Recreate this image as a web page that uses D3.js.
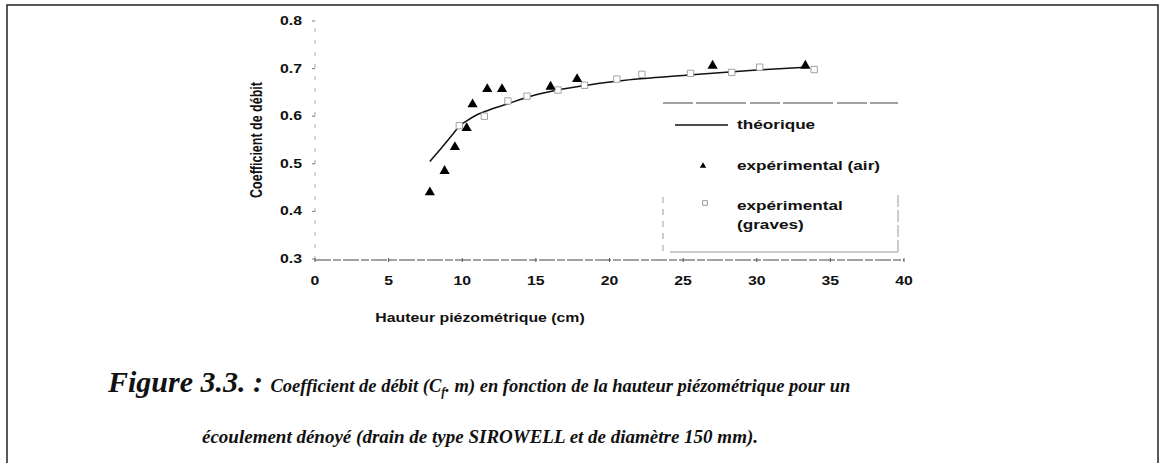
<!DOCTYPE html>
<html><head><meta charset="utf-8">
<script src="https://cdn.jsdelivr.net/npm/d3@7"></script>
<style>
html,body{margin:0;padding:0;background:#fff;}
svg{display:block;}
</style></head>
<body>
<svg id="c" width="1166" height="463"></svg>
<script>
// ---- data ----
const xTicks = [0,5,10,15,20,25,30,35,40];
const yTicks = [0.3,0.4,0.5,0.6,0.7,0.8];
const theoX = [7.8,8.5,9.3,9.8,10.3,11.0,12.0,13.0,14.4,16.0,18.0,20.6,25.6,30.0,33.3];
const theoY = [0.505,0.53,0.56,0.579,0.59,0.603,0.615,0.625,0.64,0.652,0.663,0.674,0.687,0.697,0.703];
const airX = [7.8,8.8,9.5,10.3,10.7,11.7,12.7,16.0,17.8,27.0,33.3];
const airY = [0.44,0.485,0.535,0.575,0.625,0.657,0.657,0.662,0.678,0.706,0.706];
const gravX = [9.8,11.5,13.1,14.4,16.5,18.3,20.5,22.2,25.5,28.3,30.2,33.9];
const gravY = [0.58,0.60,0.632,0.642,0.655,0.665,0.678,0.688,0.69,0.692,0.703,0.698];
const legendLabels = ["théorique","expérimental (air)","expérimental","(graves)"];

const svg = d3.select("#c");
const x = d3.scaleLinear().domain([0,40]).range([315,904]);
const y = d3.scaleLinear().domain([0.3,0.8]).range([259,21]);
const SX = 1.32;
const sans = "'Liberation Sans', Arial, sans-serif";

// page border
svg.append("path").attr("d","M7,470 L7,5 L1158,5 L1158,470")
  .attr("fill","none").attr("stroke","#222").attr("stroke-width",1.5);

// axes
svg.append("line").attr("x1",x(0)).attr("x2",x(40)).attr("y1",y(0.3)+1).attr("y2",y(0.3)+1)
  .attr("stroke","#444").attr("stroke-width",1.2).attr("stroke-dasharray","16,2,8,2");
svg.append("line").attr("x1",x(0)).attr("x2",x(0)).attr("y1",y(0.3)+1).attr("y2",y(0.8))
  .attr("stroke","#aaa").attr("stroke-width",1).attr("stroke-dasharray","4,8");
svg.selectAll(".xt").data(xTicks).join("line").attr("x1",d=>x(d)).attr("x2",d=>x(d))
  .attr("y1",y(0.3)-1).attr("y2",y(0.3)+3).attr("stroke","#555");
svg.selectAll(".yt").data(yTicks).join("line").attr("x1",x(0)-3).attr("x2",x(0))
  .attr("y1",d=>y(d)).attr("y2",d=>y(d)).attr("stroke","#777");

function stext(g, tx, ty, txt, size, anchor){
  return g.append("text").attr("transform",`translate(${tx},${ty}) scale(${SX},1)`)
    .attr("font-family",sans).attr("font-weight","bold").attr("font-size",size)
    .attr("text-anchor",anchor||"start").attr("fill","#111").text(txt);
}
xTicks.forEach(d=>stext(svg, x(d), 285, d, 12, "middle"));
yTicks.forEach(d=>stext(svg, 302, y(d)+4, d.toFixed(1), 12, "end"));

stext(svg, 480, 322, "Hauteur piézométrique (cm)", 12, "middle");
svg.append("text").attr("transform",`translate(262,140) rotate(-90) scale(1,${SX})`)
  .attr("font-family",sans).attr("font-weight","bold").attr("font-size",12.5)
  .attr("text-anchor","middle").attr("fill","#111").text("Coefficient de débit");

// theoretical line
const theo = theoX.map((d,i)=>[d,theoY[i]]);
svg.append("path").datum(theo)
  .attr("d", d3.line().x(d=>x(d[0])).y(d=>y(d[1])).curve(d3.curveMonotoneX))
  .attr("fill","none").attr("stroke","#111").attr("stroke-width",1.5);

// graves squares
const sq = d3.symbol().type(d3.symbolSquare).size(40);
svg.selectAll(".g").data(gravX.map((d,i)=>[d,gravY[i]])).join("path")
  .attr("d",sq).attr("transform",d=>`translate(${x(d[0])},${y(d[1])})`)
  .attr("fill","#fff").attr("stroke","#999").attr("stroke-width",0.9);

// air triangles
const tri = d3.symbol().type(d3.symbolTriangle).size(45);
svg.selectAll(".a").data(airX.map((d,i)=>[d,airY[i]])).join("path")
  .attr("d",tri).attr("transform",d=>`translate(${x(d[0])},${y(d[1])})`)
  .attr("fill","#000");

// legend
const L = svg.append("g");
L.append("line").attr("x1",663).attr("x2",898).attr("y1",103).attr("y2",103)
  .attr("stroke","#444").attr("stroke-dasharray","30,3,50,4");
L.append("line").attr("x1",670).attr("x2",898).attr("y1",252).attr("y2",252).attr("stroke","#999");
L.append("line").attr("x1",663).attr("x2",663).attr("y1",197).attr("y2",252).attr("stroke","#999").attr("stroke-dasharray","6,6");
L.append("line").attr("x1",898).attr("x2",898).attr("y1",195).attr("y2",252).attr("stroke","#999").attr("stroke-dasharray","12,3");
L.append("line").attr("x1",675).attr("x2",728).attr("y1",125).attr("y2",125).attr("stroke","#111").attr("stroke-width",1.3);
L.append("path").attr("d",d3.symbol().type(d3.symbolTriangle).size(18)).attr("transform","translate(703,166)").attr("fill","#000");
L.append("path").attr("d",d3.symbol().type(d3.symbolSquare).size(22)).attr("transform","translate(705,203)").attr("fill","#fff").attr("stroke","#999");
stext(L, 737, 129, legendLabels[0], 13);
stext(L, 737, 170, legendLabels[1], 13);
stext(L, 737, 210, legendLabels[2], 13);
stext(L, 737, 229, legendLabels[3], 13);

// caption
const serif = "'Liberation Serif','Times New Roman',serif";
const c1 = svg.append("text").attr("x",108).attr("y",392).attr("font-family",serif)
  .attr("font-weight","bold").attr("font-style","italic").attr("fill","#111");
c1.append("tspan").attr("font-size",30).text("Figure 3.3. : ");
c1.append("tspan").attr("font-size",18.5).text("Coefficient de débit (C");
c1.append("tspan").attr("font-size",12).attr("dy",4).text("f");
c1.append("tspan").attr("font-size",18.5).attr("dy",-4).text(". m) en fonction de la hauteur piézométrique pour un");
svg.append("text").attr("x",480).attr("y",443).attr("text-anchor","middle").attr("font-family",serif)
  .attr("font-weight","bold").attr("font-style","italic").attr("font-size",19).attr("fill","#111")
  .text("écoulement dénoyé (drain de type SIROWELL et de diamètre 150 mm).");
</script>
</body></html>
